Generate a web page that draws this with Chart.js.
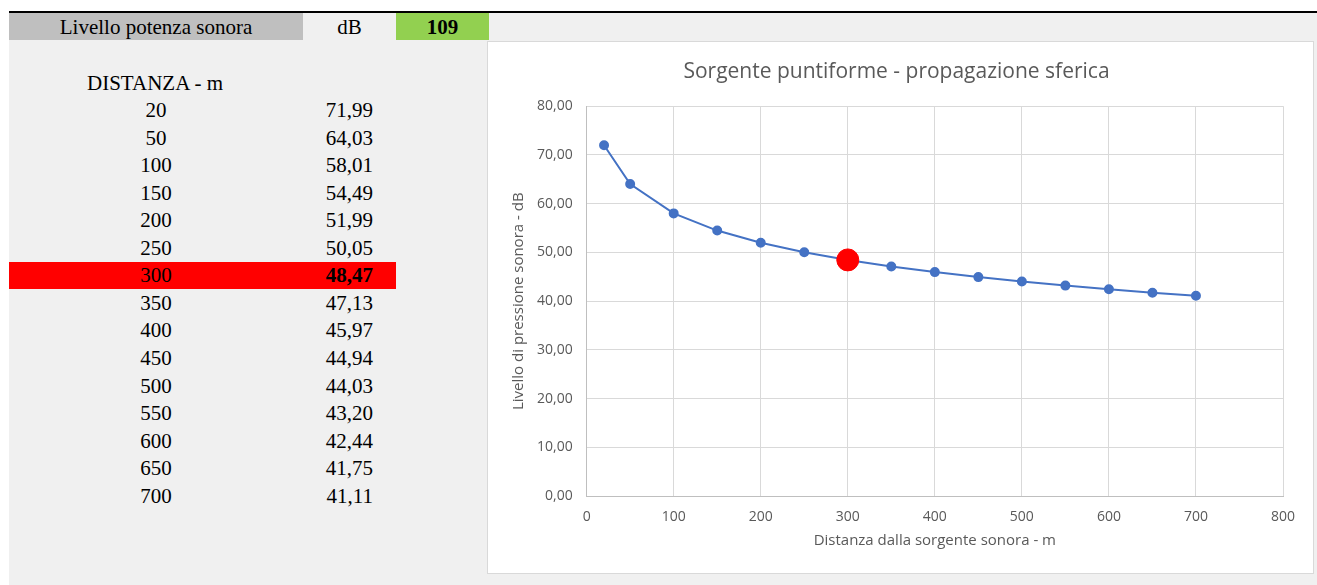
<!DOCTYPE html>
<html>
<head>
<meta charset="utf-8">
<script src="https://cdn.jsdelivr.net/npm/chart.js@4"></script>
<style>
  html, body { margin: 0; padding: 0; }
  body { width: 1317px; height: 585px; background: #f0f0f0; position: relative; overflow: hidden;
         font-family: "Liberation Serif", "Times New Roman", serif; color: #000; }
  .topstrip { position: absolute; left: 0; top: 0; width: 1317px; height: 11px; background: #fff; }
  .leftstrip { position: absolute; left: 0; top: 0; width: 9px; height: 585px; background: #fff; }
  .topline { position: absolute; left: 9px; top: 11px; width: 1308px; height: 2px; background: #000; }
  .cell { position: absolute; height: 27px; line-height: 28px; font-size: 21px; text-align: center; }
  .row { position: absolute; left: 9px; width: 387px; height: 27px; line-height: 27px; font-size: 21px; }
  .row .d { position: absolute; left: 100px; width: 94px; text-align: center; }
  .row .v { position: absolute; left: 260px; width: 104px; text-align: right; }
  .row.sel { background: #ff0000; }
  .row.sel .v { font-weight: bold; }
  #panel { position: absolute; left: 487px; top: 41px; width: 825px; height: 531px; background: #fff;
           border: 1px solid #d9d9d9; }
</style>
</head>
<body>
<div class="topstrip"></div>
<div class="leftstrip"></div>
<div class="topline"></div>
<div class="cell" style="left:9px;top:13px;width:294px;background:#bfbfbf;">Livello potenza sonora</div>
<div class="cell" style="left:303px;top:13px;width:93px;">dB</div>
<div class="cell" style="left:396px;top:13px;width:93px;background:#92d050;font-weight:bold;" id="lw"></div>
<div class="cell" style="left:60px;top:69px;width:190px;">DISTANZA - m</div>
<div id="table"></div>
<div id="panel"><canvas id="chartSpl"></canvas></div>
<script>
// Dati
const soundPower = 109;
const distances = [20, 50, 100, 150, 200, 250, 300, 350, 400, 450, 500, 550, 600, 650, 700];
const levels = [71.99, 64.03, 58.01, 54.49, 51.99, 50.05, 48.47, 47.13, 45.97, 44.94, 44.03, 43.20, 42.44, 41.75, 41.11];
const selectedDistance = 300;
const xTicks = [0, 100, 200, 300, 400, 500, 600, 700, 800];
const yTicks = [0, 10, 20, 30, 40, 50, 60, 70, 80];

const fmt = v => v.toFixed(2).replace('.', ',');

// Tabella a sinistra
document.getElementById('lw').textContent = soundPower;
const table = document.getElementById('table');
distances.forEach((d, i) => {
  const row = document.createElement('div');
  row.className = 'row' + (d === selectedDistance ? ' sel' : '');
  row.style.top = Math.round(97 + i * 27.55) + 'px';
  row.innerHTML = '<span class="d">' + d + '</span><span class="v">' + fmt(levels[i]) + '</span>';
  table.appendChild(row);
});

// Grafico
const points = distances.map((d, i) => ({ x: d, y: levels[i] }));
const selIdx = distances.indexOf(selectedDistance);
const font = '"Open Sans", "Liberation Sans", sans-serif';

new Chart(document.getElementById('chartSpl').getContext('2d'), {
  type: 'scatter',
  data: {
    datasets: [
      {
        label: 'Punto selezionato',
        data: [points[selIdx]],
        backgroundColor: '#ff0000',
        borderColor: '#ff0000',
        pointRadius: 11,
        order: 0
      },
      {
        label: 'Livello di pressione sonora',
        data: points,
        showLine: true,
        borderColor: '#4472c4',
        backgroundColor: '#4472c4',
        borderWidth: 2,
        pointRadius: 4,
        order: 1
      }
    ]
  },
  options: {
    responsive: true,
    maintainAspectRatio: false,
    animation: false,
    layout: { padding: { left: 22, right: 30, top: 0, bottom: 20 } },
    plugins: {
      legend: { display: false },
      tooltip: { enabled: false },
      title: {
        display: true,
        text: 'Sorgente puntiforme - propagazione sferica',
        color: '#595959',
        font: { family: font, size: 21, weight: 'normal' },
        padding: { top: 17, bottom: 22 }
      }
    },
    scales: {
      x: {
        type: 'linear',
        min: 0, max: 800,
        afterBuildTicks: axis => { axis.ticks = xTicks.map(v => ({ value: v })); },
        grid: { color: '#d9d9d9', drawTicks: false },
        border: { color: '#bfbfbf' },
        ticks: { color: '#595959', font: { family: font, size: 14 }, padding: 12 },
        title: { display: true, text: 'Distanza dalla sorgente sonora - m', color: '#595959',
                 font: { family: font, size: 15 }, padding: { top: -5, bottom: 3 } }
      },
      y: {
        type: 'linear',
        min: 0, max: 80,
        afterBuildTicks: axis => { axis.ticks = yTicks.map(v => ({ value: v })); },
        grid: { color: '#d9d9d9', drawTicks: false },
        border: { color: '#bfbfbf' },
        ticks: { color: '#595959', font: { family: font, size: 14 }, padding: 14,
                 callback: v => fmt(v) },
        title: { display: true, text: 'Livello di pressione sonora - dB', color: '#595959',
                 font: { family: font, size: 15 }, padding: { top: 0, bottom: -5 } }
      }
    }
  }
});
</script>
</body>
</html>
